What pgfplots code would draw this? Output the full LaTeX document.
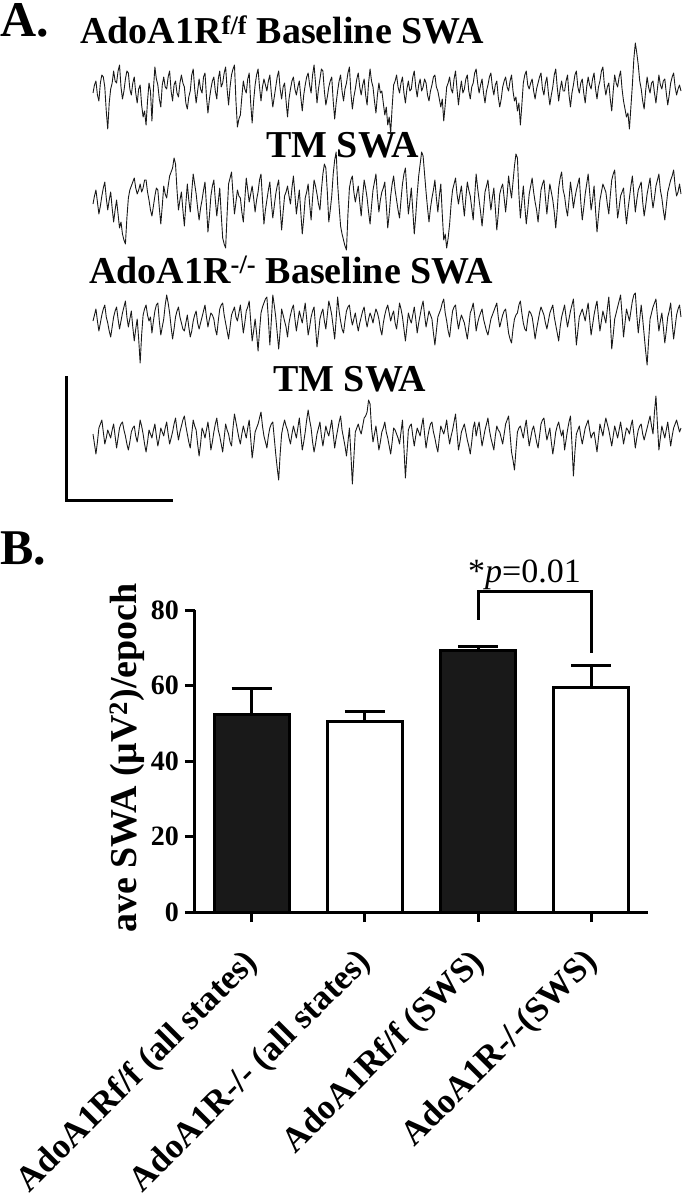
\documentclass[border=0pt]{standalone}
\usepackage{fontspec}
\setmainfont{Liberation Serif}
\usepackage{pgfplots}
\pgfplotsset{compat=1.18}
\newcommand\lblfont{\fontsize{38}{40}\selectfont\bfseries}
\pgfplotsset{trace/.style={hide axis, scale only axis, width=588pt, height=120pt,
  xmin=0, xmax=399, ymin=-60, ymax=60, clip=false, anchor=west},
  tr/.style={black!90, line width=0.9pt, line join=round}}
\begin{document}
\begin{tikzpicture}
\useasboundingbox (0pt,0pt) rectangle (681pt,-1199pt);
% ---------- Panel A ----------
\node[anchor=base west, inner sep=0pt, font=\fontsize{50}{50}\selectfont\bfseries] at (0pt,-37pt) {A.};
\node[anchor=base west, inner sep=0pt, font=\lblfont] at (80pt,-44pt) {AdoA1R\textsuperscript{f/f} Baseline SWA};
\node[anchor=base west, inner sep=0pt, font=\lblfont] at (266pt,-157pt) {TM SWA};
\node[anchor=base west, inner sep=0pt, font=\lblfont] at (89pt,-283pt) {AdoA1R\textsuperscript{-/-} Baseline SWA};
\node[anchor=base west, inner sep=0pt, font=\lblfont] at (273pt,-391pt) {TM SWA};

\begin{axis}[trace, at={(93pt,-95pt)}]
\addplot[tr] table[row sep=\\, header=false, x expr=\coordindex, y index=0] {
2\\10\\14\\0\\-6\\12\\20\\18\\8\\-16\\-34\\-8\\6\\12\\24\\14\\12\\24\\30\\8\\
-4\\4\\16\\24\\22\\6\\0\\12\\18\\2\\-8\\6\\10\\-10\\-22\\-16\\-30\\-6\\12\\4\\
-26\\6\\28\\16\\10\\-4\\-12\\10\\18\\8\\6\\18\\24\\4\\-6\\10\\14\\2\\-2\\12\\
20\\12\\8\\-8\\-14\\-2\\4\\20\\26\\6\\-8\\4\\16\\6\\2\\18\\22\\-2\\-18\\-4\\
6\\14\\18\\4\\-4\\16\\24\\8\\12\\22\\28\\6\\-10\\8\\20\\26\\30\\-6\\-32\\-24\\
-20\\-2\\14\\6\\2\\16\\22\\-8\\-28\\-6\\10\\20\\26\\8\\-6\\8\\16\\10\\4\\14\\
20\\2\\-12\\-2\\8\\18\\24\\6\\-4\\8\\12\\-6\\-22\\-4\\6\\14\\18\\6\\0\\8\\
14\\-2\\-16\\0\\10\\18\\22\\10\\2\\20\\30\\12\\-8\\6\\16\\26\\24\\4\\-10\\-2\\
8\\14\\18\\-6\\-24\\-8\\4\\14\\20\\4\\-6\\6\\12\\22\\28\\2\\-14\\-2\\6\\16\\
22\\8\\0\\10\\16\\0\\-10\\12\\26\\14\\8\\-6\\-18\\0\\12\\2\\4\\-8\\-20\\-12\\
-30\\-22\\-38\\-12\\10\\14\\20\\8\\2\\12\\18\\2\\-8\\6\\14\\4\\6\\18\\24\\8\\
-2\\10\\16\\4\\8\\16\\12\\0\\-6\\4\\10\\18\\20\\8\\4\\-4\\-12\\-4\\-26\\-10\\
8\\12\\18\\6\\2\\16\\24\\6\\-10\\4\\14\\2\\6\\16\\20\\4\\-4\\8\\12\\22\\
26\\12\\2\\10\\16\\2\\-8\\4\\10\\18\\22\\8\\0\\10\\14\\-2\\-12\\-4\\8\\14\\
18\\8\\4\\14\\20\\4\\-6\\-2\\-16\\-8\\-30\\-10\\12\\20\\24\\10\\6\\12\\16\\4\\
-4\\6\\12\\18\\22\\6\\0\\12\\18\\2\\-10\\0\\8\\20\\26\\8\\-6\\6\\14\\4\\
4\\14\\20\\0\\-12\\2\\10\\20\\24\\8\\2\\12\\16\\2\\-8\\8\\18\\10\\6\\16\\
22\\6\\-4\\8\\14\\24\\28\\10\\0\\8\\12\\-4\\-16\\4\\20\\12\\8\\18\\24\\6\\
-6\\-14\\-22\\-18\\-34\\-12\\10\\36\\52\\42\\30\\14\\6\\-6\\-14\\4\\18\\8\\2\\12\\
14\\2\\-8\\6\\20\\10\\6\\14\\16\\2\\-10\\0\\12\\18\\22\\8\\0\\6\\10\\4\\
};
\end{axis}

\begin{axis}[trace, at={(93pt,-204pt)}]
\addplot[tr] table[row sep=\\, header=false, x expr=\coordindex, y index=0] {
0\\8\\14\\2\\-10\\-2\\8\\16\\22\\6\\-6\\4\\12\\-4\\-18\\-6\\4\\-10\\-24\\-18\\
-30\\-36\\-40\\-14\\6\\14\\18\\22\\26\\16\\10\\14\\20\\12\\16\\24\\24\\12\\4\\-6\\
-12\\-2\\8\\16\\14\\-4\\-20\\-2\\18\\10\\6\\18\\28\\32\\36\\46\\40\\14\\-6\\4\\
12\\-6\\-22\\0\\20\\4\\-8\\12\\30\\20\\10\\-4\\-16\\-4\\4\\14\\22\\-2\\-28\\-12\\
8\\18\\24\\4\\-12\\2\\16\\-10\\-34\\-40\\-44\\-10\\20\\26\\32\\10\\-10\\2\\14\\8\\
6\\-8\\-18\\4\\26\\14\\2\\10\\18\\6\\-8\\4\\12\\24\\30\\4\\-20\\-6\\4\\14\\
22\\2\\-14\\-2\\10\\18\\24\\-4\\-26\\-8\\8\\12\\18\\8\\0\\16\\28\\10\\-10\\2\\
14\\-8\\-30\\-14\\6\\12\\20\\0\\-16\\6\\24\\18\\10\\0\\-6\\14\\30\\40\\36\\12\\
-18\\-6\\8\\30\\44\\52\\20\\-2\\-22\\-30\\-36\\-42\\-46\\-10\\16\\24\\28\\12\\2\\10\\
18\\2\\-12\\8\\24\\16\\6\\-8\\-20\\-2\\14\\22\\30\\8\\-8\\4\\12\\16\\22\\0\\
-24\\-10\\8\\20\\28\\14\\4\\-6\\-14\\4\\20\\30\\36\\12\\-10\\2\\16\\-6\\-30\\-12\\
10\\28\\40\\52\\48\\30\\12\\-4\\-18\\-4\\6\\14\\24\\6\\-8\\8\\20\\-10\\-36\\-30\\
-44\\-34\\-20\\0\\14\\20\\26\\10\\0\\10\\18\\2\\-12\\6\\22\\14\\8\\-4\\-16\\8\\
30\\16\\4\\-8\\-22\\-6\\12\\18\\24\\8\\-6\\6\\16\\-4\\-26\\-10\\10\\16\\20\\6\\
-8\\8\\28\\16\\6\\22\\38\\50\\46\\10\\-14\\2\\18\\-2\\-20\\-6\\10\\18\\26\\12\\
2\\-6\\-18\\-2\\14\\20\\24\\6\\-10\\6\\20\\12\\4\\-8\\-24\\-6\\16\\26\\32\\14\\
8\\-4\\-12\\4\\22\\10\\-4\\6\\14\\20\\26\\2\\-16\\-4\\10\\20\\30\\12\\-6\\4\\
18\\-6\\-28\\-12\\4\\12\\20\\16\\12\\0\\-10\\8\\24\\30\\34\\8\\-14\\-4\\8\\12\\
16\\-4\\-20\\-6\\6\\18\\28\\10\\-8\\4\\14\\18\\22\\2\\-12\\-2\\10\\18\\26\\8\\
-4\\6\\18\\24\\30\\14\\6\\-6\\-16\\-2\\12\\18\\24\\28\\34\\18\\8\\12\\20\\10\\
};
\end{axis}

\begin{axis}[trace, at={(93pt,-325pt)}]
\addplot[tr] table[row sep=\\, header=false, x expr=\coordindex, y index=0] {
4\\10\\16\\4\\-6\\2\\10\\16\\20\\8\\2\\-6\\-12\\-2\\8\\14\\18\\6\\-4\\4\\
12\\18\\24\\8\\-2\\6\\14\\-2\\-16\\-4\\6\\-14\\-38\\-10\\10\\16\\20\\10\\4\\8\\
-8\\4\\14\\20\\22\\4\\-10\\-2\\6\\20\\30\\22\\12\\-2\\-14\\-4\\8\\14\\18\\8\\
2\\-4\\-6\\2\\10\\-2\\-12\\-6\\4\\10\\14\\2\\-4\\2\\8\\14\\20\\8\\-2\\6\\
12\\10\\6\\-4\\-10\\4\\16\\20\\22\\10\\2\\-6\\-14\\-2\\10\\14\\18\\8\\4\\12\\
20\\6\\-8\\2\\14\\18\\24\\4\\-16\\-6\\6\\-8\\-26\\-6\\12\\18\\22\\26\\28\\6\\
-20\\4\\30\\20\\8\\-8\\-24\\-6\\16\\10\\4\\-2\\-12\\2\\10\\16\\20\\6\\-6\\4\\
14\\8\\2\\12\\22\\6\\-10\\-2\\8\\14\\18\\-2\\-22\\-8\\6\\12\\16\\4\\-4\\10\\
24\\18\\10\\-2\\-14\\6\\28\\14\\4\\-4\\-8\\4\\14\\18\\20\\8\\0\\6\\12\\2\\
-6\\2\\8\\14\\18\\6\\-2\\6\\12\\8\\2\\10\\16\\12\\6\\-4\\-10\\2\\10\\16\\
20\\12\\4\\10\\14\\2\\-4\\8\\22\\16\\8\\-4\\-16\\-2\\12\\6\\2\\10\\18\\6\\
-8\\2\\10\\18\\24\\10\\-2\\6\\14\\10\\6\\-8\\-20\\-6\\8\\12\\16\\22\\26\\12\\
4\\-6\\-12\\2\\14\\18\\20\\6\\-4\\4\\10\\6\\2\\-6\\-14\\-2\\12\\16\\22\\10\\
-6\\2\\8\\12\\16\\6\\0\\-6\\-10\\-2\\6\\10\\14\\18\\22\\8\\-2\\4\\10\\14\\
16\\4\\-8\\-14\\-18\\-4\\6\\10\\12\\20\\24\\12\\2\\-4\\-6\\6\\14\\12\\8\\-2\\
-14\\-4\\4\\12\\18\\14\\10\\2\\-4\\4\\12\\16\\20\\8\\0\\-8\\-16\\-2\\8\\14\\
20\\8\\-2\\6\\14\\20\\26\\4\\-20\\-6\\8\\12\\16\\10\\4\\14\\22\\6\\-10\\0\\
10\\18\\24\\8\\-6\\4\\14\\8\\2\\16\\28\\6\\-24\\-10\\6\\12\\18\\24\\30\\10\\
-12\\2\\16\\10\\4\\14\\24\\30\\32\\10\\-8\\6\\20\\6\\-10\\-26\\-40\\-16\\6\\12\\
18\\22\\26\\8\\-6\\4\\12\\-2\\-18\\-6\\8\\14\\22\\2\\-14\\-2\\10\\16\\20\\8\\
};
\end{axis}

\begin{axis}[trace, at={(93pt,-440pt)}]
\addplot[tr] table[row sep=\\, header=false, x expr=\coordindex, y index=0] {
6\\-4\\-14\\-2\\12\\16\\20\\8\\-4\\2\\10\\6\\2\\10\\16\\4\\-8\\2\\12\\16\\
18\\10\\4\\-4\\-10\\-2\\8\\12\\14\\4\\-2\\8\\20\\14\\6\\-4\\-12\\-2\\10\\6\\
2\\10\\16\\4\\-6\\2\\12\\8\\4\\12\\18\\6\\-4\\2\\8\\16\\22\\10\\0\\8\\
14\\20\\24\\14\\6\\-2\\-8\\6\\20\\14\\10\\-4\\-16\\-4\\12\\8\\2\\10\\18\\6\\
-10\\-2\\8\\16\\22\\10\\4\\-4\\-12\\2\\16\\10\\6\\-2\\-6\\12\\26\\18\\10\\2\\
-4\\6\\14\\8\\2\\12\\20\\2\\-18\\-6\\8\\12\\16\\22\\28\\14\\4\\-2\\-8\\4\\
12\\16\\18\\2\\-14\\-28\\-40\\-14\\6\\14\\20\\14\\10\\2\\-4\\6\\14\\8\\2\\12\\
22\\6\\-10\\-2\\8\\20\\30\\20\\12\\-2\\-12\\-4\\6\\12\\18\\4\\-6\\4\\14\\8\\
4\\12\\20\\6\\-8\\2\\10\\18\\24\\10\\2\\-6\\-16\\-2\\12\\-14\\-44\\-18\\8\\12\\
16\\10\\6\\14\\22\\24\\28\\40\\36\\12\\-2\\6\\14\\2\\-10\\-2\\8\\12\\18\\8\\
2\\-6\\-14\\-2\\12\\10\\6\\2\\-4\\8\\20\\-8\\-38\\-14\\10\\14\\16\\4\\-6\\4\\
12\\8\\4\\14\\22\\6\\-8\\2\\10\\16\\18\\8\\2\\-6\\-12\\2\\14\\10\\6\\12\\
20\\6\\-4\\4\\10\\18\\26\\8\\-10\\-2\\8\\12\\16\\8\\0\\-6\\-14\\-2\\12\\18\\
4\\12\\18\\6\\-6\\2\\10\\16\\22\\10\\2\\-4\\-10\\4\\14\\10\\8\\2\\-4\\6\\
16\\20\\24\\6\\-12\\-20\\-30\\-10\\8\\12\\14\\8\\2\\12\\20\\6\\-6\\2\\10\\14\\
6\\-2\\-8\\4\\16\\20\\22\\10\\0\\6\\12\\-2\\-14\\-4\\8\\14\\18\\10\\4\\10\\
-10\\0\\10\\18\\24\\-4\\-36\\-12\\6\\10\\14\\4\\-4\\4\\12\\16\\20\\10\\2\\6\\
8\\-2\\-12\\2\\16\\10\\4\\14\\22\\16\\10\\2\\-6\\4\\14\\8\\2\\10\\18\\8\\
-4\\4\\12\\10\\6\\14\\20\\6\\-8\\2\\10\\14\\16\\6\\0\\6\\12\\18\\24\\14\\
6\\28\\44\\16\\-10\\2\\14\\8\\2\\10\\18\\6\\-6\\4\\12\\16\\20\\14\\8\\12\\
};
\end{axis}

% scale bar
\draw[line width=3pt, line cap=rect] (66pt,-377pt) -- (66pt,-500pt) -- (171pt,-500pt);

% ---------- Panel B ----------
\node[anchor=base west, inner sep=0pt, font=\fontsize{50}{50}\selectfont\bfseries] at (0pt,-564pt) {B.};
\node[anchor=base west, inner sep=0pt, font=\fontsize{34}{34}\selectfont] at (468pt,-582pt) {*\textit{p}=0.01};
\node[rotate=90, inner sep=0pt, font=\fontsize{38}{38}\selectfont\bfseries] at (127pt,-758pt) {ave SWA (μV\textsuperscript{2})/epoch};

\begin{axis}[
  at={(195pt,-912pt)}, anchor=south west,
  scale only axis, width=453pt, height=302pt,
  xmin=0, xmax=4, ymin=0, ymax=80,
  axis x line*=bottom, axis y line*=left,
  axis line style={line width=3pt, -},
  xtick={0.5,1.5,2.5,3.5},
  xticklabels={AdoA1Rf/f (all states), AdoA1R-/- (all states), AdoA1Rf/f (SWS), AdoA1R-/-(SWS)},
  ytick={0,20,40,60,80}, yticklabels={0,20,40,60,80},
  tick align=outside, major tick length=10pt,
  tick style={line width=3pt, black},
  x tick label style={rotate=45, anchor=north east, inner sep=0pt, xshift=-24pt, yshift=-10pt,
    font=\fontsize{35}{35}\selectfont\bfseries},
  y tick label style={font=\fontsize{28}{28}\selectfont\bfseries, inner sep=0pt, xshift=-6pt},
  clip=false,
]
\addplot[ybar, bar width=75pt, bar shift=0pt, fill=black!90, draw=black, line width=3pt,
  error bars/.cd, y dir=plus, y explicit,
  error bar style={line width=3pt, black},
  error mark options={rotate=90, line width=3pt, mark size=20pt, black}]
  coordinates {(0.5,52.4) +- (0,6.9) (2.5,69.4) +- (0,0.9)};
\addplot[ybar, bar width=75pt, bar shift=0pt, fill=white, draw=black, line width=3pt,
  error bars/.cd, y dir=plus, y explicit,
  error bar style={line width=3pt, black},
  error mark options={rotate=90, line width=3pt, mark size=20pt, black}]
  coordinates {(1.5,50.6) +- (0,2.6) (3.5,59.6) +- (0,5.8)};
\addplot[line width=3pt, black, line join=miter, mark=none]
  coordinates {(2.5,77.4) (2.5,85.0) (3.5,85.0) (3.5,68.6)};
\end{axis}
\end{tikzpicture}
\end{document}
